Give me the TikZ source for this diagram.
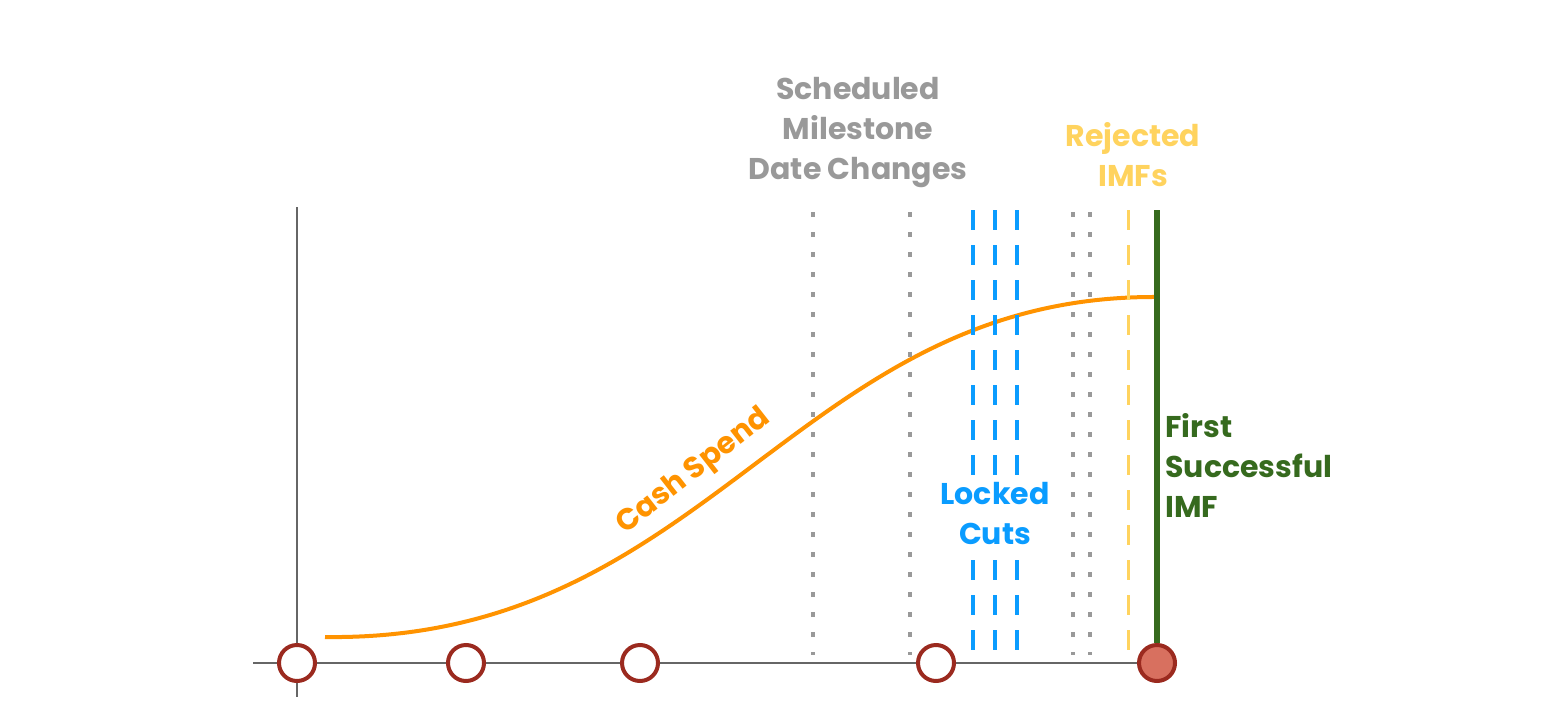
\documentclass[tikz,border=0pt]{standalone}
\usepackage{fontspec}
\setmainfont{Poppins}
\usepackage{tikz}
\tikzset{every picture/.style={line width=0.75pt}}

\definecolor{axisgray}{RGB}{102,102,102}
\definecolor{schedgray}{RGB}{153,153,153}
\definecolor{cutblue}{RGB}{10,156,255}
\definecolor{imfyellow}{RGB}{255,211,94}
\definecolor{imfgreen}{RGB}{54,106,30}
\definecolor{cashorange}{RGB}{255,147,0}
\definecolor{msred}{RGB}{155,42,31}
\definecolor{msfill}{RGB}{216,112,95}

\tikzset{
  axis/.style={draw=axisgray, line width=1.5pt},
  sched/.style={draw=schedgray, line width=3.5pt, dash pattern=on 3.5pt off 11.5pt},
  lockcut/.style={draw=cutblue, line width=3pt, dash pattern=on 15pt off 11.25pt},
  rejimf/.style={draw=imfyellow, line width=2.25pt, dash pattern=on 15pt off 11.25pt},
  goodimf/.style={draw=imfgreen, line width=5pt},
  cash/.style={draw=cashorange, line width=3pt},
  milestone/.style={circle, draw=msred, line width=3pt, fill=white, minimum size=27pt, inner sep=0pt},
  label/.style={font=\bfseries\fontsize{22.5}{30}\selectfont, align=center, inner sep=0.75pt},
}

\begin{document}
\begin{tikzpicture}[x=0.75pt,y=0.75pt,yscale=-1,xscale=1]
\useasboundingbox (0,0) rectangle (1562,710);

% axes
\coordinate (xl) at (253,663);
\coordinate (xr) at (1157,663);
\coordinate (yt) at (297,207);
\coordinate (yb) at (297,697);
\draw[axis] (xl) -- (xr);
\draw[axis] (yt) -- (yb);

% cash spend curve
\coordinate (cs0) at (325,637);
\coordinate (cs1) at (1157,297);
\draw[cash] (cs0) .. controls (710,642) and (795,295) .. (cs1);

% scheduled milestone date changes
\draw[sched] (813,212) -- (813,655);
\draw[sched] (910,212) -- (910,655);
\draw[sched] (1073,212) -- (1073,655);
\draw[sched] (1090,212) -- (1090,655);

% locked cuts
\draw[lockcut] (973,210) -- (973,650);
\draw[lockcut] (995,210) -- (995,650);
\draw[lockcut] (1017,210) -- (1017,650);

% rejected IMF
\draw[rejimf] (1128,210) -- (1128,655);

% milestones
\node[milestone] (m1) at (297,663) {};
\node[milestone] (m2) at (466,663) {};
\node[milestone] (m3) at (640,663) {};
\node[milestone] (m4) at (936,663) {};
\coordinate (ft) at (1157,210);
\node[milestone, fill=msfill] (m5) at (1157,663) {};
\draw[goodimf] (ft) -- (m5.north);

% labels
\node[label, text=schedgray] (schedlbl) at (858,133) {Scheduled\\Milestone\\Date Changes};
\node[label, text=imfyellow] (rejlbl) at (1133,155) {Rejected\\IMFs};
\node[label, text=cutblue, fill=white, inner sep=3pt] (locklbl) at (995,514) {Locked\\Cuts};
\node[label, text=imfgreen, anchor=west, align=left] (goodlbl) at (1164,465) {First\\Successful\\IMF};
\node[label, text=cashorange, rotate=38] (cashlbl) at (694,472) {Cash Spend};

\end{tikzpicture}
\end{document}
